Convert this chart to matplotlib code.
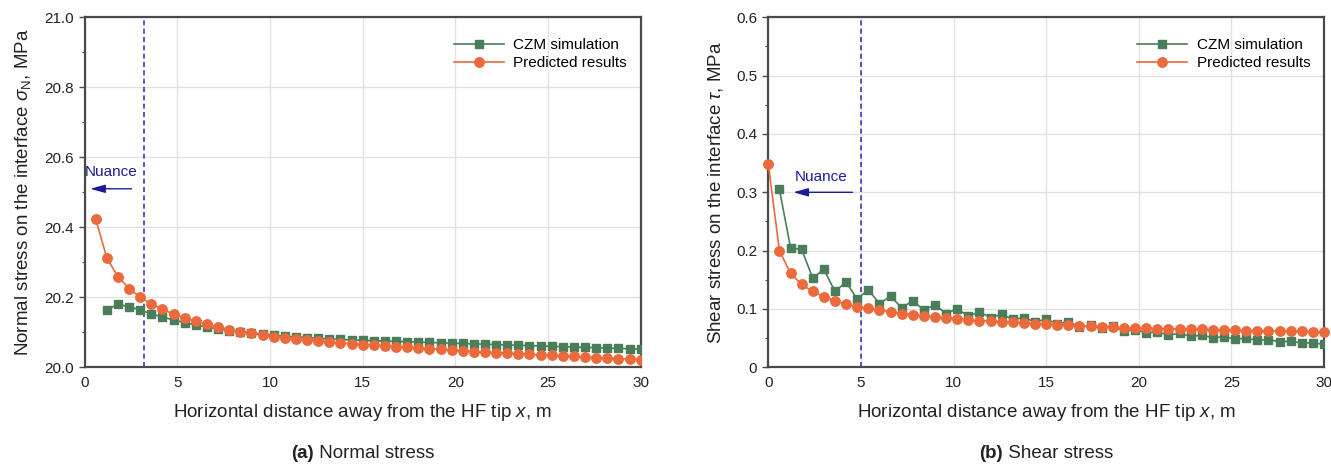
import numpy as np
import matplotlib
matplotlib.use("Agg")
import matplotlib.pyplot as plt
from matplotlib.ticker import MultipleLocator, FuncFormatter

plt.rcParams['font.family'] = ['Liberation Sans', 'DejaVu Sans']
plt.rcParams['mathtext.fontset'] = 'custom'
plt.rcParams['mathtext.rm'] = 'Liberation Sans'
plt.rcParams['mathtext.it'] = 'Liberation Sans:italic'
plt.rcParams['mathtext.bf'] = 'Liberation Sans:bold'

# ---------------- data: (a) normal stress ----------------
xa_pred = [0.6, 1.2, 1.8, 2.4, 3.0, 3.6, 4.2, 4.8, 5.4, 6.0, 6.6, 7.2, 7.8, 8.4, 9.0, 9.6,
           10.2, 10.8, 11.4, 12.0, 12.6, 13.2, 13.8, 14.4, 15.0, 15.6, 16.2, 16.8, 17.4,
           18.0, 18.6, 19.2, 19.8, 20.4, 21.0, 21.6, 22.2, 22.8, 23.4, 24.0, 24.6, 25.2,
           25.8, 26.4, 27.0, 27.6, 28.2, 28.8, 29.4, 30.0]
ya_pred = [20.424, 20.312, 20.259, 20.225, 20.200, 20.181, 20.166, 20.152, 20.141, 20.131,
           20.123, 20.115, 20.108, 20.102, 20.097, 20.092, 20.088, 20.084, 20.081, 20.078,
           20.075, 20.072, 20.070, 20.067, 20.065, 20.063, 20.061, 20.059, 20.057, 20.055,
           20.053, 20.051, 20.049, 20.047, 20.045, 20.043, 20.042, 20.040, 20.038, 20.037,
           20.035, 20.034, 20.032, 20.031, 20.029, 20.028, 20.026, 20.025, 20.023, 20.022]
xa_czm = xa_pred[1:]
ya_czm = [20.164, 20.180, 20.173, 20.164, 20.152, 20.144, 20.135, 20.128, 20.121, 20.115,
          20.110, 20.105, 20.101, 20.098, 20.095, 20.092, 20.089, 20.087, 20.085, 20.083,
          20.081, 20.080, 20.078, 20.077, 20.076, 20.075, 20.074, 20.073, 20.072, 20.071,
          20.070, 20.069, 20.068, 20.067, 20.066, 20.065, 20.064, 20.063, 20.062, 20.061,
          20.060, 20.059, 20.058, 20.057, 20.056, 20.055, 20.054, 20.053, 20.052]

# ---------------- data: (b) shear stress ----------------
xb_pred = [0.0] + xa_pred
yb_pred = [0.348, 0.200, 0.161, 0.142, 0.130, 0.121, 0.114, 0.108, 0.104, 0.101, 0.098,
           0.0955, 0.092, 0.0897, 0.088, 0.0863, 0.0846, 0.083, 0.081, 0.080, 0.0794,
           0.078, 0.077, 0.076, 0.075, 0.0738, 0.0726, 0.072, 0.0703, 0.070, 0.069,
           0.0686, 0.0675, 0.067, 0.0669, 0.0663, 0.066, 0.066, 0.065, 0.065, 0.064,
           0.064, 0.0635, 0.063, 0.0626, 0.0626, 0.062, 0.0617, 0.0617, 0.061, 0.060]
xb_czm = xa_pred
yb_czm = [0.305, 0.205, 0.202, 0.153, 0.168, 0.130, 0.146, 0.117, 0.133, 0.109, 0.122,
          0.102, 0.114, 0.098, 0.107, 0.092, 0.1006, 0.0875, 0.095, 0.085, 0.091, 0.082,
          0.085, 0.078, 0.082, 0.075, 0.078, 0.069, 0.072, 0.068, 0.0703, 0.062, 0.0646,
          0.059, 0.0606, 0.0555, 0.058, 0.053, 0.055, 0.051, 0.052, 0.0486, 0.0497,
          0.0463, 0.0475, 0.044, 0.0446, 0.0417, 0.0417, 0.0394]

nuance_a = 3.22
nuance_b = 5.0

GREEN = '#4a7d5a'
ORANGE = '#ea6a3c'
DASH = '#3c3cb4'
ARROW = '#1c1c96'
SPINE = '#4a4a4a'

W, H = 1331, 469
fig = plt.figure(figsize=(W / 100, H / 100), dpi=100)

def px_axes(l, t, r, b):
    return fig.add_axes([l / W, 1 - b / H, (r - l) / W, (b - t) / H])

axA = px_axes(84.6, 17.3, 640.7, 367.3)
axB = px_axes(768.3, 17.3, 1324.0, 367.3)

def style(ax):
    for s in ax.spines.values():
        s.set_color(SPINE)
        s.set_linewidth(1.6)
    ax.grid(True, which='major', color='#e2e2e2', linewidth=1.0)
    ax.set_axisbelow(True)
    ax.tick_params(which='major', direction='out', length=4, width=1.0, color=SPINE,
                   labelsize=11, labelcolor='#222222', pad=4)
    ax.tick_params(which='minor', direction='out', length=2.5, width=0.8, color=SPINE)
    ax.tick_params(axis='x', which='both', length=0, pad=6)
    ax.set_xlim(0, 30)
    ax.xaxis.set_major_locator(MultipleLocator(5))

XLABEL = 'Horizontal distance away from the HF tip $\\mathit{x}$, m'
LABEL_FS = 13.5

# ---------- panel (a) ----------
ax = axA
style(ax)
ax.plot(xa_czm, ya_czm, '-s', color=GREEN, lw=1.2, ms=6, mfc=GREEN, mec=GREEN,
        label='CZM simulation', zorder=3)
ax.plot(xa_pred, ya_pred, '-o', color=ORANGE, lw=1.2, ms=6.8, mfc=ORANGE, mec=ORANGE,
        label='Predicted results', zorder=4)
ax.set_ylim(20.0, 21.0)
ax.yaxis.set_major_locator(MultipleLocator(0.2))
ax.yaxis.set_minor_locator(MultipleLocator(0.1))
ax.yaxis.set_major_formatter(FuncFormatter(lambda v, p: f"{v:.1f}"))
ax.axvline(nuance_a, color=DASH, ls=(0, (3, 2)), lw=1.2, zorder=2)
ax.annotate('', xy=(0.15, 20.51), xytext=(2.68, 20.51),
            arrowprops=dict(arrowstyle='-|>,head_length=0.9,head_width=0.25', color=ARROW, lw=1.0))
ax.text(1.41, 20.558, 'Nuance', color=ARROW, ha='center', va='center', fontsize=11)
ax.set_xlabel(XLABEL, fontsize=LABEL_FS, labelpad=9, color='#222222')
ax.set_ylabel('Normal stress on the interface $\\sigma_{\\mathrm{N}}$, MPa', fontsize=LABEL_FS,
              labelpad=8, color='#222222')
ax.legend(loc='upper right', bbox_to_anchor=(1.0, 0.98), frameon=False, fontsize=11,
          handlelength=3.3, handletextpad=0.6, labelspacing=0.25)

# ---------- panel (b) ----------
ax = axB
style(ax)
ax.plot(xb_czm, yb_czm, '-s', color=GREEN, lw=1.2, ms=6, mfc=GREEN, mec=GREEN,
        label='CZM simulation', zorder=3)
ax.plot(xb_pred, yb_pred, '-o', color=ORANGE, lw=1.2, ms=6.8, mfc=ORANGE, mec=ORANGE,
        label='Predicted results', zorder=4, clip_on=False)
ax.set_ylim(0, 0.6)
ax.yaxis.set_major_locator(MultipleLocator(0.1))
ax.yaxis.set_minor_locator(MultipleLocator(0.05))
ax.yaxis.set_major_formatter(FuncFormatter(lambda v, p: "0" if abs(v) < 1e-9 else f"{v:.1f}"))
ax.axvline(nuance_b, color=DASH, ls=(0, (3, 2)), lw=1.2, zorder=2)
ax.annotate('', xy=(1.2, 0.30), xytext=(4.7, 0.30),
            arrowprops=dict(arrowstyle='-|>,head_length=0.9,head_width=0.25', color=ARROW, lw=1.0))
ax.text(2.87, 0.326, 'Nuance', color=ARROW, ha='center', va='center', fontsize=11)
ax.set_xlabel(XLABEL, fontsize=LABEL_FS, labelpad=9, color='#222222')
ax.set_ylabel('Shear stress on the interface $\\mathit{\\tau}$, MPa', fontsize=LABEL_FS,
              labelpad=8, color='#222222')
ax.legend(loc='upper right', bbox_to_anchor=(1.0, 0.98), frameon=False, fontsize=11,
          handlelength=3.3, handletextpad=0.6, labelspacing=0.25)

# ---------- captions ----------
def caption(cx_px, tag, txt):
    y = 1 - 453 / H
    t1 = fig.text(cx_px / W, y, tag, fontsize=13.5, fontweight='bold', ha='left',
                  va='center', color='#222222')
    fig.canvas.draw()
    r = fig.canvas.get_renderer()
    w1 = t1.get_window_extent(r).width
    t2 = fig.text(0, y, ' ' + txt, fontsize=13.5, ha='left', va='center', color='#222222')
    w2 = t2.get_window_extent(r).width
    x0 = cx_px - (w1 + w2) / 2
    t1.set_x(x0 / W)
    t2.set_x((x0 + w1) / W)

caption((84.6 + 640.7) / 2, '(a)', 'Normal stress')
caption((768.3 + 1324.0) / 2, '(b)', 'Shear stress')

fig.savefig('out.png', dpi=100)
